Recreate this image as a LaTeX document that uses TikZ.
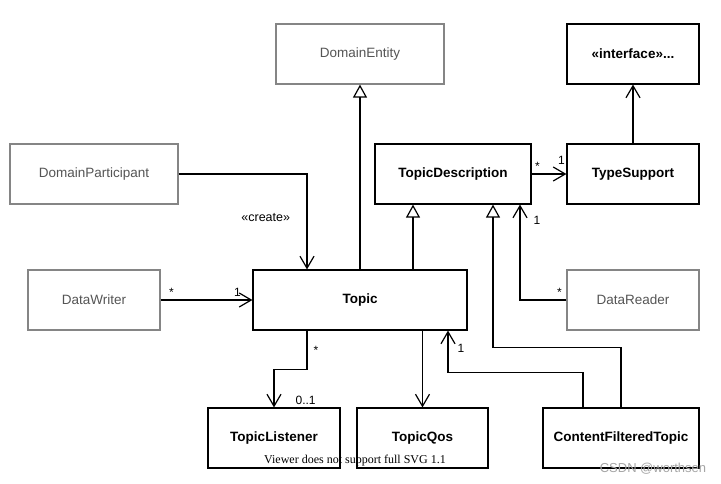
\documentclass[tikz,border=0pt]{standalone}
\usepackage{fontspec}
\setmainfont{Liberation Sans}
\newfontfamily\viewerfont{Liberation Serif}
\usetikzlibrary{arrows.meta,positioning}

\definecolor{umlgray}{HTML}{858585}
\definecolor{umltext}{HTML}{555555}

\begin{document}
\begin{tikzpicture}[x=1pt, y=-1pt, line width=1.2pt,
    cls/.style={draw, minimum height=60pt, font=\fontsize{13.5}{15}\selectfont\bfseries},
    ext/.style={draw=umlgray, text=umltext, minimum height=60pt, font=\fontsize{13.5}{15}\selectfont},
    assoc/.style={-{Straight Barb[length=12pt, width=14pt]}},
    gen/.style={-{Triangle[open, length=13pt, width=14pt]}},
    mult/.style={font=\fontsize{12}{14}\selectfont, inner sep=1pt}]
    \useasboundingbox[fill=white] (0,0) rectangle (721,484);

    % classes
    \node[ext, minimum width=168pt] (entity) at (360,54) {DomainEntity};
    \node[cls, minimum width=132pt] (iface) at (633,54) {«interface»...};
    \node[ext, minimum width=168pt] (participant) at (94,174) {DomainParticipant};
    \node[cls, minimum width=156pt] (tdesc) at (453,174) {TopicDescription};
    \node[cls, minimum width=132pt] (typesup) at (633,174) {TypeSupport};
    \node[ext, minimum width=132pt] (writer) at (94,300) {DataWriter};
    \node[cls, minimum width=214pt] (topic) at (360,300) {Topic};
    \node[ext, minimum width=132pt] (reader) at (633,300) {DataReader};
    \node[cls, minimum width=132pt] (listener) at (274,438) {TopicListener};
    \node[cls, minimum width=131pt] (qos) at (422.5,438) {TopicQos};
    \node[cls, minimum width=156pt] (cft) at (621,438) {ContentFilteredTopic};

    % generalizations
    \draw[gen] (topic.north) -- (entity.south);
    \draw[gen] ([xshift=53pt]topic.north) -- ([xshift=53pt]topic.north |- tdesc.south);
    \draw[gen] (cft.north) -- ++(0,-60) -| ([xshift=40pt]tdesc.south);

    % associations
    \draw[assoc] (participant.east) -| node[pos=0.73, left=13pt, font=\fontsize{12.5}{14}\selectfont] {«create»} ([xshift=-53pt]topic.north);
    \draw[assoc] (writer.east) -- (topic.west)
        node[mult, at start, above right=2pt and 7pt] {*}
        node[mult, at end, above left=2pt and 10pt] {1};
    \draw[assoc] (tdesc.east) -- (typesup.west)
        node[mult, at start, above right=2pt and 2pt] {*}
        node[mult, at end, above left=8pt and 0pt] {1};
    \draw[assoc] (typesup.north) -- (iface.south);
    \draw[assoc] (reader.west) -| ([xshift=67pt]tdesc.south)
        node[mult, at start, above left=2pt and 3pt] {*}
        node[mult, at end, below right=10pt and 12pt] {1};
    \draw[assoc] ([xshift=-53pt]topic.south) -- node[mult, right=5pt] {*} ++(0,39) -| (listener.north)
        node[mult, at end, above right=1pt and 20pt] {0..1};
    \draw[assoc] (qos.north |- topic.south) -- (qos.north);
    \draw[assoc] ([xshift=-38pt]cft.north) -- ++(0,-35) -| ([xshift=88pt]topic.south)
        node[mult, at end, below right=12pt and 8pt] {1};

    % viewer notice and watermark
    \node[font=\viewerfont\fontsize{12}{14}\selectfont, inner sep=0pt] (notice) at (355,461) {Viewer does not support full SVG 1.1};
    \node[text=gray!70, font=\fontsize{13}{15}\selectfont, inner sep=0pt] (mark) at (653,469) {CSDN @worthsen};
\end{tikzpicture}
\end{document}
